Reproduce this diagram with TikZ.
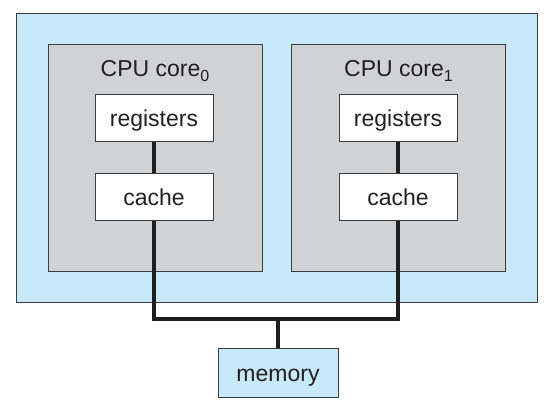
\documentclass[tikz,border=0pt]{standalone}
\usepackage{fontspec}
\setmainfont{Liberation Sans}
\definecolor{chipblue}{RGB}{200,233,250}
\definecolor{coregray}{RGB}{209,210,212}
\definecolor{edge}{RGB}{60,60,60}
\definecolor{txt}{RGB}{35,31,32}
\newcommand{\subnum}[1]{\raisebox{-5pt}{\fontsize{16}{16}\selectfont #1}}
\begin{document}
\begin{tikzpicture}[x=1pt,y=-1pt,
  box/.style={draw=edge,line width=0.8pt,inner sep=0pt,text=txt,font=\fontsize{23}{27}\selectfont,text height=16.5pt,text depth=0pt},
  chip/.style={box,fill=chipblue,minimum width=521pt,minimum height=289pt},
  core/.style={box,fill=coregray,minimum width=214pt,minimum height=227pt},
  unit/.style={box,fill=white,minimum width=118pt,minimum height=47pt},
  mem/.style={box,fill=chipblue,minimum width=120pt,minimum height=49pt},
  lbl/.style={text=txt,font=\fontsize{23}{27}\selectfont,inner sep=0pt,anchor=base},
  bus/.style={line width=3.6pt,draw=black!88}]
\useasboundingbox (0,0) rectangle (556,419);
\node[chip] (chip) at (276.5,157.5) {};
\node[core] (core0) at (155,157.5) {};
\node[core] (core1) at (398.5,157.5) {};
\node[lbl] (lab0) at (155,77) {CPU core\subnum{0}};
\node[lbl] (lab1) at (398.5,77) {CPU core\subnum{1}};
\node[unit] (reg0) at (154,118) {registers};
\node[unit] (cache0) at (154,197) {cache};
\node[unit] (reg1) at (398,118) {registers};
\node[unit] (cache1) at (398,197) {cache};
\node[mem] (mem) at (278,373) {memory};
\coordinate (busL) at (154,319);
\coordinate (busR) at (398,319);
\coordinate (busM) at (278,319);
\draw[bus] (reg0.south) -- (cache0.north);
\draw[bus] (reg1.south) -- (cache1.north);
\draw[bus] (cache0.south) -- (busL) -- (busR) -- (cache1.south);
\draw[bus] (mem.north) -- (busM);
\end{tikzpicture}
\end{document}
